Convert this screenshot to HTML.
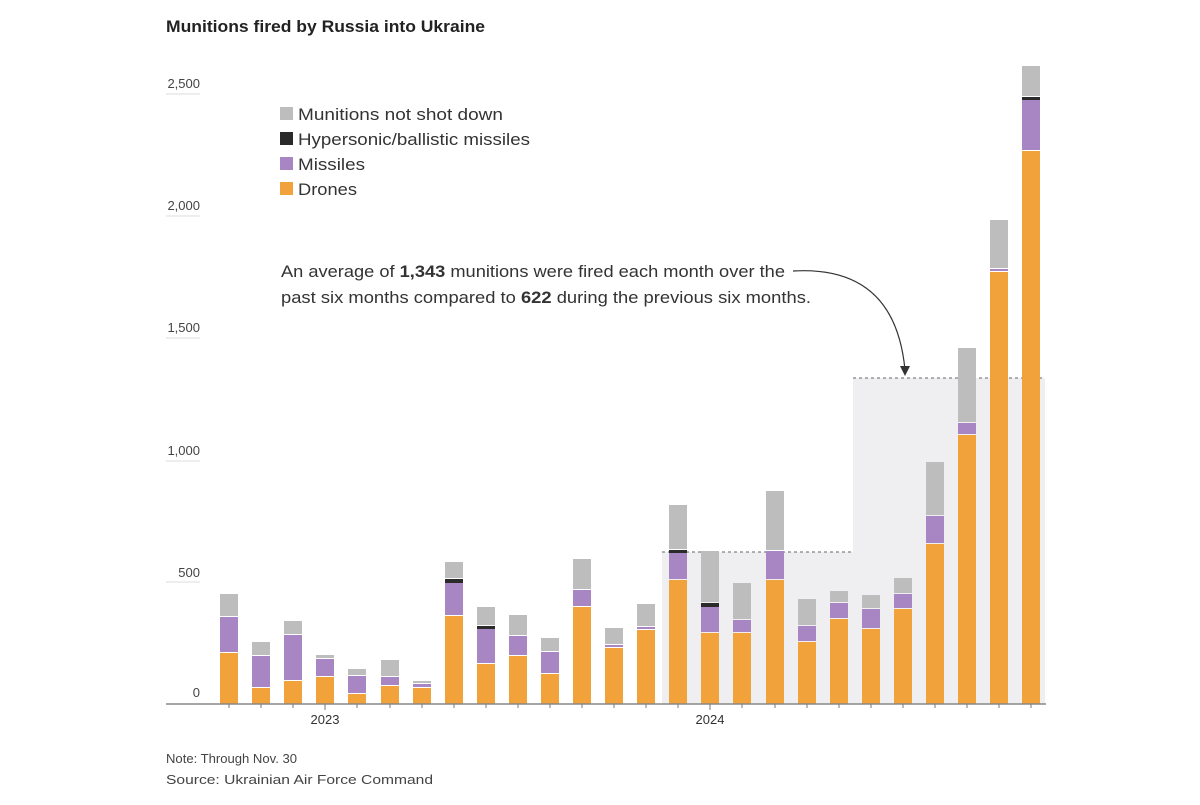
<!DOCTYPE html>
<html><head><meta charset="utf-8"><style>
body{margin:0;background:#fff;font-family:"Liberation Sans",sans-serif;}
</style></head><body>
<svg width="1200" height="800" xmlns="http://www.w3.org/2000/svg" font-family="Liberation Sans, sans-serif">
<text x="166" y="32" font-size="17" font-weight="bold" fill="#222" textLength="319" lengthAdjust="spacingAndGlyphs">Munitions fired by Russia into Ukraine</text>
<rect x="662" y="552" width="191" height="152" fill="#efeff1"/>
<rect x="853" y="378" width="192" height="326" fill="#efeff1"/>
<line x1="662" y1="552" x2="853" y2="552" stroke="#666" stroke-dasharray="3,3"/>
<line x1="853" y1="378" x2="1045" y2="378" stroke="#666" stroke-dasharray="3,3"/>
<g font-size="13" fill="#444">
<text x="200" y="88" text-anchor="end">2,500</text>
<text x="200" y="210" text-anchor="end">2,000</text>
<text x="200" y="332" text-anchor="end">1,500</text>
<text x="200" y="455" text-anchor="end">1,000</text>
<text x="200" y="577" text-anchor="end">500</text>
<text x="200" y="697" text-anchor="end">0</text>
</g>
<g stroke="#ddd"><line x1="166" y1="94" x2="200" y2="94"/><line x1="166" y1="216" x2="200" y2="216"/><line x1="166" y1="338" x2="200" y2="338"/><line x1="166" y1="461" x2="200" y2="461"/><line x1="166" y1="582" x2="200" y2="582"/></g>
<g fill="#f2a23a">
<rect x="220" y="653" width="18" height="51"/><rect x="252" y="688" width="18" height="16"/><rect x="284" y="681" width="18" height="23"/><rect x="316" y="677" width="18" height="27"/><rect x="348" y="694" width="18" height="10"/><rect x="381" y="686" width="18" height="18"/><rect x="413" y="688" width="18" height="16"/><rect x="445" y="616" width="18" height="88"/><rect x="477" y="664" width="18" height="40"/><rect x="509" y="656" width="18" height="48"/><rect x="541" y="674" width="18" height="30"/><rect x="573" y="607" width="18" height="97"/><rect x="605" y="648" width="18" height="56"/><rect x="637" y="630" width="18" height="74"/><rect x="669" y="580" width="18" height="124"/><rect x="701" y="633" width="18" height="71"/><rect x="733" y="633" width="18" height="71"/><rect x="766" y="580" width="18" height="124"/><rect x="798" y="642" width="18" height="62"/><rect x="830" y="619" width="18" height="85"/><rect x="862" y="629" width="18" height="75"/><rect x="894" y="609" width="18" height="95"/><rect x="926" y="544" width="18" height="160"/><rect x="958" y="435" width="18" height="269"/><rect x="990" y="272" width="18" height="432"/><rect x="1022" y="151" width="18" height="553"/>
</g>
<g fill="#a886c4">
<rect x="220" y="617" width="18" height="35"/><rect x="252" y="656" width="18" height="31"/><rect x="284" y="635" width="18" height="45"/><rect x="316" y="659" width="18" height="17"/><rect x="348" y="676" width="18" height="17"/><rect x="381" y="677" width="18" height="8"/><rect x="413" y="684" width="18" height="3"/><rect x="445" y="583" width="18" height="32"/><rect x="477" y="629" width="18" height="34"/><rect x="509" y="636" width="18" height="19"/><rect x="541" y="652" width="18" height="21"/><rect x="573" y="590" width="18" height="16"/><rect x="605" y="645" width="18" height="2"/><rect x="637" y="627" width="18" height="2"/><rect x="669" y="553" width="18" height="26"/><rect x="701" y="607" width="18" height="25"/><rect x="733" y="620" width="18" height="12"/><rect x="766" y="551" width="18" height="28"/><rect x="798" y="626" width="18" height="15"/><rect x="830" y="603" width="18" height="15"/><rect x="862" y="609" width="18" height="19"/><rect x="894" y="594" width="18" height="14"/><rect x="926" y="516" width="18" height="27"/><rect x="958" y="423" width="18" height="11"/><rect x="990" y="269" width="18" height="2"/><rect x="1022" y="100" width="18" height="50"/>
</g>
<g fill="#2a2a2a">
<rect x="445" y="579" width="18" height="4"/><rect x="477" y="626" width="18" height="3"/><rect x="669" y="550" width="18" height="3"/><rect x="701" y="603" width="18" height="4"/><rect x="1022" y="97" width="18" height="3"/>
</g>
<g fill="#bdbdbd">
<rect x="220" y="594" width="18" height="22"/><rect x="252" y="642" width="18" height="13"/><rect x="284" y="621" width="18" height="13"/><rect x="316" y="655" width="18" height="3"/><rect x="348" y="669" width="18" height="6"/><rect x="381" y="660" width="18" height="16"/><rect x="413" y="681" width="18" height="2"/><rect x="445" y="562" width="18" height="16"/><rect x="477" y="607" width="18" height="18"/><rect x="509" y="615" width="18" height="20"/><rect x="541" y="638" width="18" height="13"/><rect x="573" y="559" width="18" height="30"/><rect x="605" y="628" width="18" height="16"/><rect x="637" y="604" width="18" height="22"/><rect x="669" y="505" width="18" height="44"/><rect x="701" y="551" width="18" height="51"/><rect x="733" y="583" width="18" height="36"/><rect x="766" y="491" width="18" height="59"/><rect x="798" y="599" width="18" height="26"/><rect x="830" y="591" width="18" height="11"/><rect x="862" y="595" width="18" height="13"/><rect x="894" y="578" width="18" height="15"/><rect x="926" y="462" width="18" height="53"/><rect x="958" y="348" width="18" height="74"/><rect x="990" y="220" width="18" height="48"/><rect x="1022" y="66" width="18" height="30"/>
</g>
<line x1="166" y1="704" x2="1046" y2="704" stroke="#888" stroke-width="1.5"/>
<g stroke="#777">
<line x1="229" y1="704" x2="229" y2="708"/><line x1="261" y1="704" x2="261" y2="708"/><line x1="293" y1="704" x2="293" y2="708"/><line x1="325" y1="704" x2="325" y2="710"/><line x1="357" y1="704" x2="357" y2="708"/><line x1="390" y1="704" x2="390" y2="708"/><line x1="422" y1="704" x2="422" y2="708"/><line x1="454" y1="704" x2="454" y2="708"/><line x1="486" y1="704" x2="486" y2="708"/><line x1="518" y1="704" x2="518" y2="708"/><line x1="550" y1="704" x2="550" y2="708"/><line x1="582" y1="704" x2="582" y2="708"/><line x1="614" y1="704" x2="614" y2="708"/><line x1="646" y1="704" x2="646" y2="708"/><line x1="678" y1="704" x2="678" y2="708"/><line x1="710" y1="704" x2="710" y2="710"/><line x1="742" y1="704" x2="742" y2="708"/><line x1="775" y1="704" x2="775" y2="708"/><line x1="807" y1="704" x2="807" y2="708"/><line x1="839" y1="704" x2="839" y2="708"/><line x1="871" y1="704" x2="871" y2="708"/><line x1="903" y1="704" x2="903" y2="708"/><line x1="935" y1="704" x2="935" y2="708"/><line x1="967" y1="704" x2="967" y2="708"/><line x1="999" y1="704" x2="999" y2="708"/><line x1="1031" y1="704" x2="1031" y2="708"/>
</g>
<text x="325" y="724" font-size="13" fill="#333" text-anchor="middle">2023</text>
<text x="710" y="724" font-size="13" fill="#333" text-anchor="middle">2024</text>
<g font-size="17" fill="#333">
<rect x="280" y="107" width="13" height="13" fill="#bdbdbd"/><text x="298" y="120" textLength="205" lengthAdjust="spacingAndGlyphs">Munitions not shot down</text>
<rect x="280" y="132" width="13" height="13" fill="#2a2a2a"/><text x="298" y="145" textLength="232" lengthAdjust="spacingAndGlyphs">Hypersonic/ballistic missiles</text>
<rect x="280" y="157" width="13" height="13" fill="#a886c4"/><text x="298" y="170" textLength="67" lengthAdjust="spacingAndGlyphs">Missiles</text>
<rect x="280" y="182" width="13" height="13" fill="#f2a23a"/><text x="298" y="195" textLength="59" lengthAdjust="spacingAndGlyphs">Drones</text>
<text x="281" y="277" textLength="504" lengthAdjust="spacingAndGlyphs">An average of <tspan font-weight="bold">1,343</tspan> munitions were fired each month over the</text>
<text x="281" y="303" textLength="530" lengthAdjust="spacingAndGlyphs">past six months compared to <tspan font-weight="bold">622</tspan> during the previous six months.</text>
</g>
<path d="M793 271 Q895 265 905 370" fill="none" stroke="#333" stroke-width="1.2"/>
<path d="M900 366 L905 376 L910 366" fill="#333"/>
<text x="166" y="763" font-size="13" fill="#444" textLength="131" lengthAdjust="spacingAndGlyphs">Note: Through Nov. 30</text>
<text x="166" y="784" font-size="13" fill="#444" textLength="267" lengthAdjust="spacingAndGlyphs">Source: Ukrainian Air Force Command</text>
</svg>
</body></html>
